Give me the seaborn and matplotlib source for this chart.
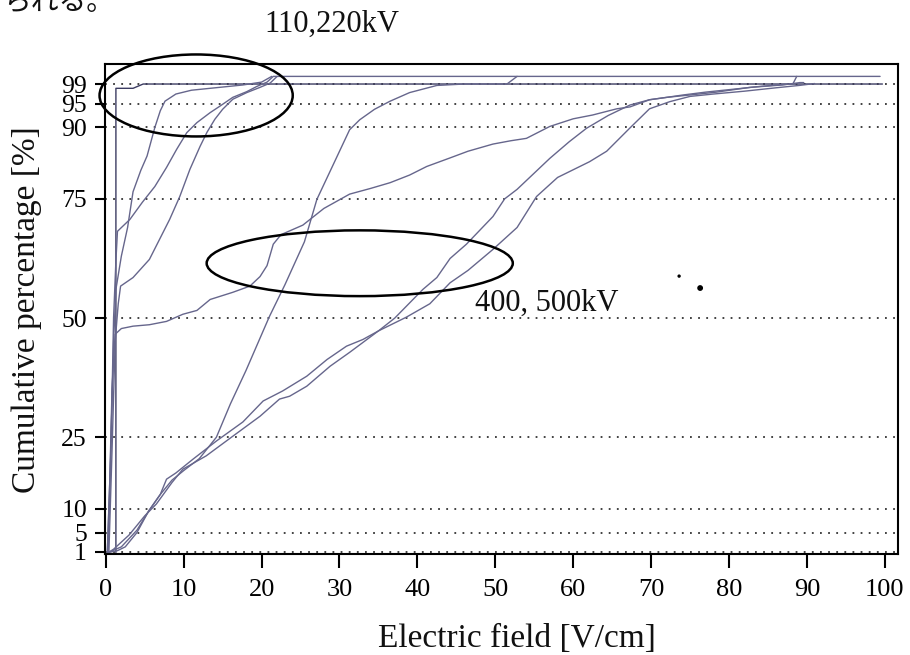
import matplotlib
matplotlib.use("Agg")
import matplotlib.pyplot as plt
from matplotlib.patches import Ellipse
import pandas as pd
import seaborn as sns

# Axis ticks
pct_ticks = [1, 5, 10, 25, 50, 75, 90, 95, 99]
field_ticks = [0, 10, 20, 30, 40, 50, 60, 70, 80, 90, 100]

# ---- 110 / 220 kV lines (steep, near the origin) ----
a_field = [1.3, 1.3, 3.5, 4.8, 99.7]
a_pct = [0.8, 98.2, 98.2, 99.1, 99.1]

b_field = [0.2, 0.6, 1.0, 1.3, 2.0, 2.8, 3.5, 4.5, 5.3, 6.3, 7.0, 7.6, 9.0, 11.0,
           13.4, 17.6, 20.0, 21.3]
b_pct = [0.8, 20, 45, 56, 63, 69, 76.5, 81, 84, 90, 93.5, 95.5, 97, 97.8,
         98.2, 98.9, 99.5, 100.7]

c_field = [0.3, 0.7, 1.0, 1.3, 1.5, 3.1, 4.7, 6.3, 7.8, 9.1, 10.4, 11.7, 13.4,
           14.6, 16.3, 18.1, 19.4, 20.7, 21.5, 99.4]
c_pct = [0.8, 25, 50, 62, 68.2, 70.7, 74.3, 77.6, 81.6, 85.4, 88.9, 91.0, 93.1,
         94.4, 96.3, 97.5, 98.6, 99.5, 100.7, 100.7]

d_field = [0.4, 0.8, 1.2, 1.6, 1.9, 3.5, 5.6, 6.9, 8.2, 9.5, 10.8, 12.1, 13.0,
           14.0, 15.0, 16.3, 18.1, 19.8, 21.1, 22.0]
d_pct = [0.8, 22, 45, 53, 56.7, 58.5, 62.3, 66.5, 70.7, 75.5, 81.2, 86.0, 89.0,
         91.7, 93.8, 95.9, 97.3, 98.4, 99.3, 100.7]

# ---- 400 / 500 kV lines ----
e_field = [0.2, 0.5, 0.8, 1.2, 2.0, 3.5, 5.6, 7.8, 9.9, 11.7, 13.4, 16.3, 18.5,
           19.8, 20.7, 21.5, 22.5, 25.3, 28.0, 31.3, 34.0, 36.5, 39.0, 41.2,
           44.2, 46.5, 49.7, 52.0, 54.0, 57.0, 60.0, 62.5, 65.6, 67.3, 69.8,
           72.0, 74.1, 77.0, 80.5, 84.0, 86.9, 88.2, 88.7]
e_pct = [0.8, 15, 35, 46.6, 47.8, 48.3, 48.6, 49.3, 50.8, 51.6, 53.9, 55.4, 56.7,
         58.7, 61.0, 65.5, 67.5, 69.5, 73.0, 76.0, 77.2, 78.4, 80.0, 81.8,
         83.6, 85.0, 86.5, 87.2, 87.7, 90.2, 91.8, 92.6, 93.9, 94.3, 95.8,
         96.3, 96.8, 97.4, 98.0, 98.6, 99.0, 99.1, 100.7]

f_field = [0.3, 1.5, 2.5, 4.0, 5.5, 7.0, 8.5, 10.0, 12.0, 14.2, 16.0, 18.0, 21.0,
           23.0, 25.5, 27.1, 29.0, 31.3, 32.6, 34.5, 36.5, 39.0, 42.5, 46.0,
           51.5, 52.8]
f_pct = [0.8, 1.2, 2.0, 5.0, 9.5, 13.0, 16.0, 18.0, 20.5, 25.0, 32.0, 39.0, 50.3,
         57.0, 66.0, 74.9, 81.5, 89.5, 91.6, 93.8, 95.5, 97.3, 98.8, 99.1,
         99.1, 100.7]

g_field = [0.3, 1.0, 3.0, 5.0, 6.5, 8.5, 9.9, 12.9, 16.3, 19.8, 22.3, 23.6, 25.8,
           28.8, 31.3, 35.0, 37.1, 40.7, 42.5, 44.2, 46.3, 49.7, 51.2, 52.8,
           57.0, 59.5, 61.7, 64.5, 67.3, 69.8, 72.0, 75.0, 78.4, 82.7, 86.9,
           89.1, 89.6]
g_pct = [0.8, 1.5, 4.5, 8.5, 11.0, 15.5, 18.3, 21.1, 25.2, 29.4, 33.0, 33.6, 35.7,
         39.9, 42.8, 47.3, 50.0, 56.0, 58.5, 62.5, 65.5, 71.3, 75.0, 77.0,
         83.5, 87.0, 89.8, 92.5, 94.7, 95.8, 96.3, 96.8, 97.4, 98.4, 98.9,
         99.4, 99.4]

h_field = [0.3, 2.0, 4.0, 5.5, 7.0, 7.8, 9.0, 11.2, 14.2, 17.6, 20.2, 22.7, 25.8,
           28.4, 30.9, 33.0, 35.0, 38.6, 41.6, 44.2, 46.5, 49.7, 52.8, 55.3,
           58.0, 62.1, 64.3, 67.3, 69.8, 72.4, 75.0, 78.0, 82.0, 86.0, 89.0,
           91.0]
h_pct = [0.8, 2.0, 5.5, 9.5, 13.0, 16.2, 17.5, 20.4, 24.2, 28.2, 32.6, 34.7, 37.8,
         41.3, 44.1, 45.5, 47.3, 50.2, 53.0, 57.4, 60.0, 64.4, 69.0, 75.5,
         79.5, 82.8, 85.0, 89.9, 93.9, 95.4, 96.5, 97.0, 97.6, 98.3, 98.8,
         99.2]

curves = {
    "a": (a_field, a_pct), "b": (b_field, b_pct), "c": (c_field, c_pct),
    "d": (d_field, d_pct), "e": (e_field, e_pct), "f": (f_field, f_pct),
    "g": (g_field, g_pct), "h": (h_field, h_pct),
}
frames = [pd.DataFrame({"field": fx, "pct": py, "curve": name})
          for name, (fx, py) in curves.items()]
df = pd.concat(frames, ignore_index=True)

palette = {k: "#66668c" for k in curves}
palette["a"] = "#3c3c62"

sns.set_theme(style="white")
plt.rcParams["font.family"] = ["Liberation Serif", "Noto Sans CJK JP"]

fig = plt.figure(figsize=(9.1, 6.55), dpi=100)
ax = fig.add_axes([105 / 910, 1 - 554 / 655, 793 / 910, 490 / 655])

sns.lineplot(data=df, x="field", y="pct", hue="curve", palette=palette,
             sort=False, estimator=None, linewidth=1.0, legend=False, ax=ax)

ax.set_xlim(-0.1, 101.7)
ax.set_ylim(0.5, 103.3)
ax.set_xticks(field_ticks)
ax.set_yticks(pct_ticks)
ax.set_xticklabels([str(v) for v in field_ticks])
ax.set_yticklabels([str(v) for v in pct_ticks])
ax.set_xlabel("")
ax.set_ylabel("")

ax.grid(False)
for v in pct_ticks:
    ax.axhline(v, color="#333333", linewidth=1.3, linestyle=(0, (1, 3.5)),
               zorder=0.5)

for s in ax.spines.values():
    s.set_visible(True)
    s.set_color("black")
    s.set_linewidth(1.5)

ax.tick_params(axis="x", direction="out", length=10, width=1.5, pad=8,
               labelsize=19, colors="black", bottom=True)
ax.tick_params(axis="y", direction="out", length=7, width=1.5, pad=6,
               labelsize=18.5, colors="black", left=True)

# Grouping ellipses
ax.add_patch(Ellipse((11.6, 96.7), 24.8, 17.2, fill=False, edgecolor="black",
                     linewidth=1.8, clip_on=False, zorder=5))
ax.add_patch(Ellipse((32.6, 61.5), 39.3, 13.8, fill=False, edgecolor="black",
                     linewidth=1.8, clip_on=False, zorder=5))

ax.text(47.4, 53.1, "400, 500kV", fontsize=22, ha="left", va="center",
        color="#111111", zorder=6)

# small ink specks
ax.scatter([73.6, 76.3], [58.8, 56.3], s=[2, 10], color="black", zorder=6)

fig.text(332 / 910, 1 - 24 / 655, "110,220kV", fontsize=22, ha="center",
         va="center", color="#111111")
fig.text(517 / 910, 1 - 639 / 655, "Electric field [V/cm]", fontsize=24,
         ha="center", va="center", color="#111111")
fig.text(27 / 910, 1 - 310 / 655, "Cumulative percentage [%]", fontsize=24,
         ha="center", va="center", rotation=90, color="#111111")
fig.text(3 / 910, 1 - 10 / 655, "られる。", fontsize=20, ha="left",
         va="baseline", family=["Noto Sans CJK JP"], color="#111111")

fig.savefig("out.png", dpi=100, facecolor="white")
